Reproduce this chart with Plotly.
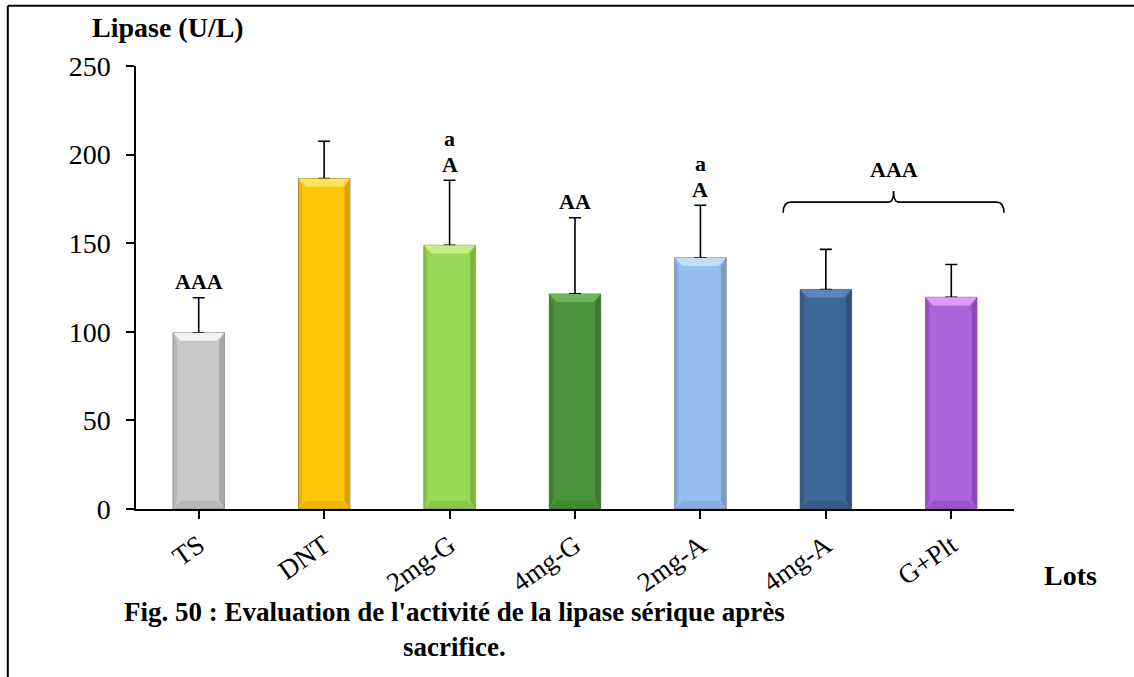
import plotly.graph_objects as go

# Serum lipase activity per group (U/L), mean and standard deviation
lots = ["TS", "DNT", "2mg-G", "4mg-G", "2mg-A", "4mg-A", "G+Plt"]
lipase_mean = [99.5, 186.5, 148.8, 121.4, 141.8, 123.9, 119.5]
lipase_sd = [19.7, 21.0, 36.7, 43.0, 29.6, 22.6, 18.5]
bar_colors = ["#c9c9c9", "#ffc706", "#9ad957", "#4a923b", "#96bdee", "#3d6797", "#ad63d9"]
top_colors = ["#f2f2f2", "#ffe35c", "#c3f08a", "#6cb65a", "#c3dcfa", "#5a86b8", "#e39af5"]
side_colors = ["#a9a9a9", "#dca300", "#7cb83e", "#387a2b", "#779ccb", "#2d5079", "#8c47b8"]

# Significance letters above the error bars
sig_upper = ["", "", "a", "", "a", "", ""]
sig_lower = ["AAA", "", "A", "AA", "A", "", ""]
group_label = "AAA"

BAR_W = 0.41
FONT = "Liberation Serif, Times New Roman, serif"

fig = go.Figure()
fig.add_trace(go.Bar(
    x=list(range(len(lots))),
    y=lipase_mean,
    width=BAR_W,
    marker=dict(color=bar_colors, line=dict(color="rgba(70,70,70,0.6)", width=1)),
    error_y=dict(type="data", array=lipase_sd, symmetric=False, arrayminus=[0] * len(lots),
                 color="black", thickness=1.6, width=6),
    showlegend=False,
))

# Bevel highlights on each bar
dx, dy = 0.06, 4.6
shapes = []
for i, v in enumerate(lipase_mean):
    l, r = i - BAR_W / 2, i + BAR_W / 2
    shapes.append(dict(type="path", xref="x", yref="y",
                       path=f"M {l},{v} L {r},{v} L {r-dx},{v-dy} L {l+dx},{v-dy} Z",
                       fillcolor=top_colors[i], line=dict(width=0), layer="above"))
    shapes.append(dict(type="path", xref="x", yref="y",
                       path=f"M {r},{v} L {r},0 L {r-dx*0.7},{dy} L {r-dx*0.7},{v-dy} Z",
                       fillcolor=side_colors[i], line=dict(width=0), layer="above"))
    shapes.append(dict(type="path", xref="x", yref="y",
                       path=f"M {l},{v} L {l},0 L {l+dx*0.5},{dy} L {l+dx*0.5},{v-dy} Z",
                       fillcolor=side_colors[i], opacity=0.6, line=dict(width=0), layer="above"))
    shapes.append(dict(type="path", xref="x", yref="y",
                       path=f"M {l},0 L {r},0 L {r-dx},{dy} L {l+dx},{dy} Z",
                       fillcolor=side_colors[i], opacity=0.5, line=dict(width=0), layer="above"))

# Curly bracket grouping the last two lots
bl, br, bm = 4.66, 6.42, 5.54
by, bend, btip = 173.2, 167.2, 179.5
shapes.append(dict(type="path", xref="x", yref="y",
                   path=(f"M {bl},{bend} Q {bl},{by} {bl+0.06},{by} L {bm-0.04},{by} "
                         f"Q {bm},{by} {bm},{btip} Q {bm},{by} {bm+0.04},{by} "
                         f"L {br-0.06},{by} Q {br},{by} {br},{bend}"),
                   line=dict(color="black", width=1.6)))

# Outer frame lines
shapes.append(dict(type="line", xref="paper", yref="paper", x0=-0.146, x1=1.2, y0=1.136, y1=1.136,
                   line=dict(color="black", width=2)))
shapes.append(dict(type="line", xref="paper", yref="paper", x0=-0.146, x1=-0.146, y0=1.136, y1=-0.5,
                   line=dict(color="black", width=2)))

annotations = []
letter_font = dict(family=FONT, size=22, color="black")
for i, (v, s) in enumerate(zip(lipase_mean, lipase_sd)):
    if sig_lower[i]:
        annotations.append(dict(x=i, y=v + s, text=f"<b>{sig_lower[i]}</b>", showarrow=False,
                                yanchor="middle", yshift=16, font=letter_font))
    if sig_upper[i]:
        annotations.append(dict(x=i, y=v + s, text=f"<b>{sig_upper[i]}</b>", showarrow=False,
                                yanchor="middle", yshift=42, font=letter_font))
annotations.append(dict(x=bm, y=btip, text=f"<b>{group_label}</b>", showarrow=False,
                        yanchor="middle", yshift=21, font=letter_font))

annotations.append(dict(xref="paper", yref="paper", x=-0.0524, y=1.047, xanchor="left", yanchor="bottom",
                        text="<b>Lipase (U/L)</b>", showarrow=False,
                        font=dict(family=FONT, size=28, color="black")))
annotations.append(dict(xref="paper", yref="paper", x=1.064, y=-0.149, xanchor="center", yanchor="middle",
                        text="<b>Lots</b>", showarrow=False,
                        font=dict(family=FONT, size=28, color="black")))
annotations.append(dict(xref="paper", yref="paper", x=0.363, y=-0.195, xanchor="center", yanchor="top",
                        text="<b>Fig. 50 : Evaluation de l'activité de la lipase sérique après<br>sacrifice.</b>",
                        showarrow=False, align="center",
                        font=dict(family=FONT, size=27, color="black")))

fig.update_layout(
    width=1134, height=677,
    margin=dict(l=136, r=120, t=66, b=168),
    paper_bgcolor="white", plot_bgcolor="white",
    font=dict(family=FONT, color="black"),
    bargap=0.59,
    shapes=shapes,
    annotations=annotations,
    xaxis=dict(
        tickmode="array", tickvals=list(range(len(lots))), ticktext=lots,
        range=[-0.5, len(lots) - 0.5],
        showline=True, linecolor="black", linewidth=2,
        ticks="outside", ticklen=8, tickwidth=1.5, tickcolor="black",
        tickangle=-35, tickfont=dict(family=FONT, size=27, color="black"),
        showgrid=False, zeroline=False,
    ),
    yaxis=dict(
        range=[0, 250], tickvals=[0, 50, 100, 150, 200, 250],
        showline=True, linecolor="black", linewidth=1.5,
        ticks="outside", ticklen=8, tickwidth=1.5, tickcolor="black",
        ticklabelstandoff=10,
        tickfont=dict(family=FONT, size=28, color="black"),
        showgrid=False, zeroline=False,
    ),
)

fig.write_html("out.html")
